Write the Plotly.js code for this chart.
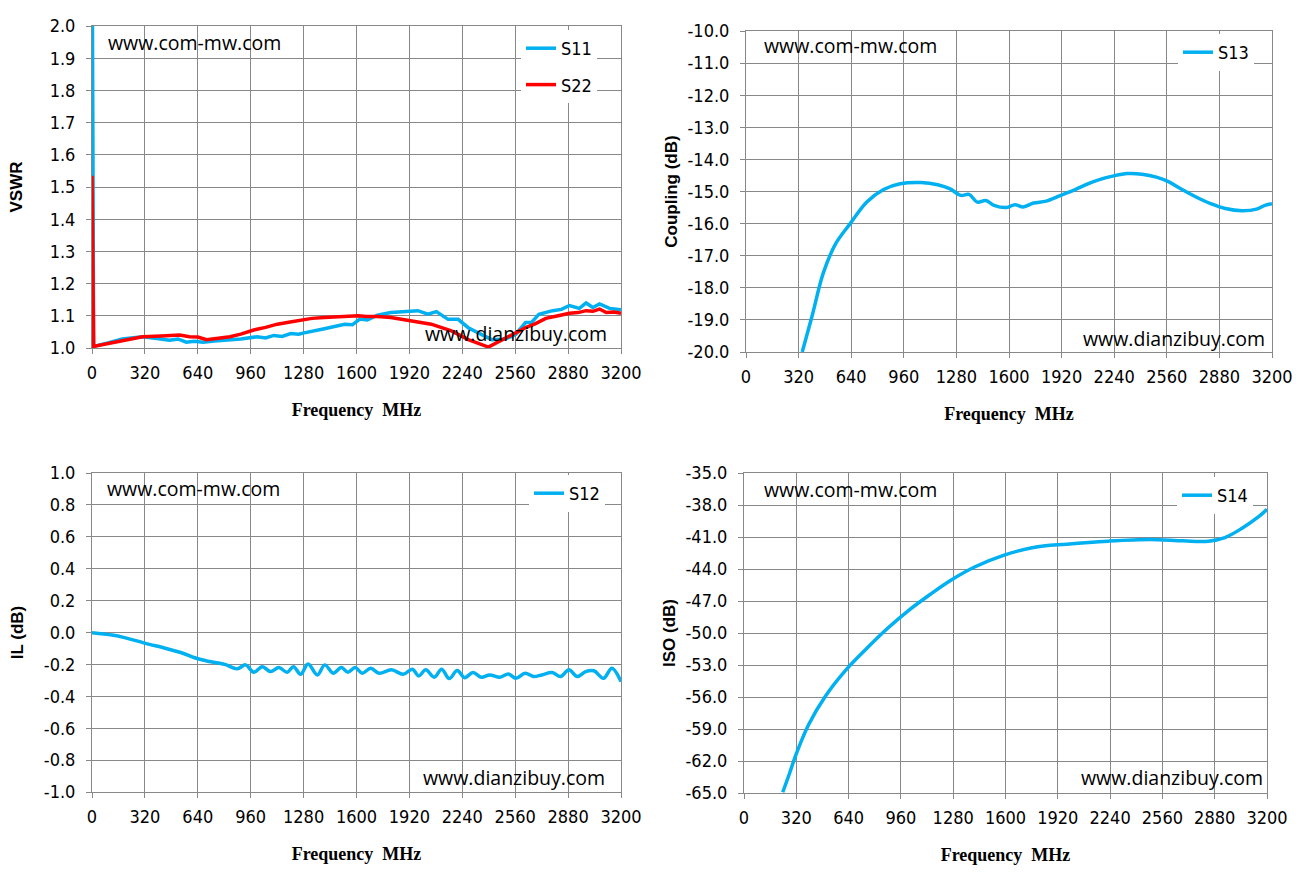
<!DOCTYPE html>
<html>
<head>
<meta charset="utf-8">
<script src="https://cdn.plot.ly/plotly-3.0.1.min.js"></script>
<style>
  html, body { margin: 0; padding: 0; background: #fff; }
  #chart { width: 1315px; height: 881px; }
</style>
</head>
<body>
<div id="chart"></div>
<script>
// VSWR
var s11Freq = [0, 10, 90, 183, 250, 306, 380, 469, 520, 570, 620, 672, 740, 835, 900, 999, 1050, 1100, 1150, 1202, 1250, 1284, 1340, 1406, 1460, 1528, 1575, 1620, 1665, 1727, 1808, 1910, 1971, 2032, 2083, 2154, 2215, 2276, 2357, 2418, 2500, 2562, 2623, 2660, 2704, 2786, 2840, 2888, 2948, 2989, 3030, 3070, 3131, 3200];
var s11Vals = [2.4, 1.005, 1.015, 1.028, 1.032, 1.035, 1.030, 1.024, 1.028, 1.018, 1.021, 1.018, 1.022, 1.026, 1.028, 1.035, 1.031, 1.039, 1.036, 1.045, 1.043, 1.047, 1.052, 1.060, 1.066, 1.074, 1.072, 1.090, 1.087, 1.102, 1.110, 1.114, 1.116, 1.105, 1.113, 1.089, 1.089, 1.063, 1.042, 1.026, 1.028, 1.042, 1.079, 1.080, 1.105, 1.116, 1.120, 1.132, 1.123, 1.140, 1.126, 1.137, 1.123, 1.119];

var s22Freq = [0, 10, 160, 306, 420, 530, 590, 640, 693, 760, 835, 900, 978, 1050, 1121, 1190, 1264, 1330, 1406, 1500, 1610, 1660, 1727, 1808, 1930, 2052, 2174, 2276, 2398, 2520, 2623, 2680, 2745, 2820, 2888, 2940, 2989, 3030, 3070, 3111, 3160, 3200];
var s22Vals = [1.535, 1.005, 1.020, 1.035, 1.037, 1.040, 1.035, 1.034, 1.026, 1.030, 1.035, 1.043, 1.056, 1.064, 1.074, 1.080, 1.087, 1.092, 1.095, 1.098, 1.100, 1.098, 1.098, 1.095, 1.084, 1.074, 1.053, 1.026, 1.003, 1.037, 1.063, 1.075, 1.092, 1.100, 1.108, 1.110, 1.116, 1.114, 1.121, 1.110, 1.112, 1.108];

// Coupling
var s13Freq = [342, 406, 469, 545, 634, 735, 837, 938, 1065, 1166, 1242, 1306, 1357, 1407, 1458, 1509, 1585, 1636, 1687, 1750, 1826, 1915, 2003, 2079, 2155, 2231, 2320, 2409, 2497, 2573, 2650, 2738, 2827, 2916, 3017, 3106, 3157, 3200];
var s13Vals = [-20.0, -18.8, -17.56, -16.63, -16.0, -15.33, -14.94, -14.76, -14.72, -14.79, -14.92, -15.12, -15.09, -15.33, -15.28, -15.43, -15.50, -15.41, -15.48, -15.36, -15.30, -15.12, -14.94, -14.76, -14.62, -14.52, -14.44, -14.46, -14.55, -14.70, -14.93, -15.17, -15.38, -15.53, -15.60, -15.55, -15.43, -15.38];

// Insertion loss
var s12Freq = [0, 121, 197, 323, 449, 550, 626, 701, 803, 878, 929, 979, 1030, 1080, 1130, 1181, 1219, 1262, 1307, 1363, 1408, 1459, 1509, 1547, 1592, 1635, 1686, 1736, 1812, 1883, 1938, 1976, 2019, 2070, 2115, 2161, 2209, 2254, 2305, 2355, 2406, 2468, 2519, 2564, 2620, 2670, 2721, 2784, 2834, 2885, 2935, 2986, 3036, 3094, 3145, 3200];
var s12Vals = [-0.001, -0.016, -0.032, -0.068, -0.100, -0.130, -0.160, -0.180, -0.200, -0.228, -0.203, -0.249, -0.214, -0.245, -0.220, -0.249, -0.214, -0.262, -0.197, -0.266, -0.203, -0.255, -0.220, -0.249, -0.220, -0.255, -0.224, -0.255, -0.234, -0.262, -0.230, -0.272, -0.234, -0.280, -0.230, -0.289, -0.239, -0.283, -0.251, -0.280, -0.266, -0.280, -0.260, -0.287, -0.255, -0.276, -0.266, -0.251, -0.276, -0.234, -0.276, -0.245, -0.240, -0.287, -0.224, -0.308];

// Isolation
var s14Freq = [237, 280, 318, 395, 497, 624, 752, 879, 1006, 1134, 1261, 1414, 1592, 1771, 1975, 2229, 2484, 2688, 2841, 2943, 3045, 3147, 3200];
var s14Vals = [-64.93, -63.1, -61.4, -58.6, -55.95, -53.46, -51.43, -49.56, -47.9, -46.44, -45.1, -43.79, -42.70, -41.98, -41.67, -41.39, -41.24, -41.36, -41.39, -41.05, -40.2, -39.12, -38.4];

var BLUE = '#00B0F0', RED = '#FF0000', GRID = '#888888';
var tickFont = {family: 'DejaVu Sans Condensed, Liberation Sans, sans-serif', size: 18, color: '#000'};
var yTitleFont = {family: 'Liberation Sans, Arial, sans-serif', size: 17, color: '#000', weight: 'bold'};
var xTitleFont = {family: 'Liberation Serif, Times New Roman, serif', size: 18, color: '#000', weight: 'bold'};

// y tick labels written with a plain hyphen, as in the original
function yTicks(lo, hi, step) {
  var vals = [], text = [];
  var n = Math.round((hi - lo) / step);
  for (var i = 0; i <= n; i++) {
    var v = +(lo + i * step).toFixed(4);
    vals.push(v);
    text.push(v.toFixed(1));
  }
  return {vals: vals, text: text};
}

function xAxis(dom, anchor) {
  return {
    domain: dom, anchor: anchor, range: [0, 3200], tick0: 0, dtick: 320,
    showgrid: true, gridcolor: GRID, gridwidth: 1, zeroline: false,
    showline: true, linecolor: GRID, linewidth: 1, mirror: true,
    ticks: 'outside', ticklen: 5, tickcolor: GRID, ticklabelstandoff: 3,
    tickfont: tickFont,
    title: {text: 'Frequency\u00A0\u00A0MHz', font: xTitleFont, standoff: 21}
  };
}
function yAxis(dom, anchor, range, dtick, title, standoff) {
  var t = yTicks(range[0], range[1], dtick);
  return {
    domain: dom, anchor: anchor, range: range,
    tickmode: 'array', tickvals: t.vals, ticktext: t.text,
    showgrid: true, gridcolor: GRID, gridwidth: 1, zeroline: false,
    showline: true, linecolor: GRID, linewidth: 1, mirror: true,
    ticks: 'outside', ticklen: 5, tickcolor: GRID, ticklabelstandoff: 7,
    tickfont: tickFont,
    title: {text: title, font: yTitleFont, standoff: standoff}
  };
}

var line = function (c, shape) { return {color: c, width: 3.5, shape: shape || 'linear'}; };
var data = [
  {x: s11Freq, y: s11Vals, name: 'S11', type: 'scatter', mode: 'lines', line: line(BLUE), xaxis: 'x', yaxis: 'y', legend: 'legend', legendgroup: 'a'},
  {x: s22Freq, y: s22Vals, name: 'S22', type: 'scatter', mode: 'lines', line: line(RED), xaxis: 'x', yaxis: 'y', legend: 'legend', legendgroup: 'b'},
  {x: s13Freq, y: s13Vals, name: 'S13', type: 'scatter', mode: 'lines', line: line(BLUE, 'spline'), xaxis: 'x2', yaxis: 'y2', legend: 'legend2'},
  {x: s12Freq, y: s12Vals, name: 'S12', type: 'scatter', mode: 'lines', line: line(BLUE, 'spline'), xaxis: 'x3', yaxis: 'y3', legend: 'legend3'},
  {x: s14Freq, y: s14Vals, name: 'S14', type: 'scatter', mode: 'lines', line: line(BLUE, 'spline'), xaxis: 'x4', yaxis: 'y4', legend: 'legend4'}
];

var W = 1315, H = 881;
function px(x) { return x / W; }
function py(y) { return 1 - y / H; }

var legFont = {family: 'DejaVu Sans Condensed, Liberation Sans, sans-serif', size: 18, color: '#000'};
function leg(x, y) {
  return {x: px(x), y: py(y), xanchor: 'left', yanchor: 'top', bgcolor: '#fff', borderwidth: 0,
          font: legFont, traceorder: 'grouped', tracegroupgap: 10};
}

var markFont = {family: 'Open Sans, Liberation Sans, sans-serif', size: 19.5, color: '#000'};
function mark(text, x, y) {
  return {text: text, xref: 'paper', yref: 'paper', x: px(x), y: py(y),
          xanchor: 'left', yanchor: 'middle', showarrow: false, font: markFont};
}

var layout = {
  width: W, height: H, margin: {l: 0, r: 0, t: 0, b: 0},
  paper_bgcolor: '#fff', plot_bgcolor: '#fff', showlegend: true,
  xaxis: xAxis([px(92), px(621)], 'y'),
  yaxis: yAxis([py(348), py(26)], 'x', [1.0, 2.0], 0.1, 'VSWR', 22),
  xaxis2: xAxis([px(746), px(1272)], 'y2'),
  yaxis2: yAxis([py(352), py(31)], 'x2', [-20, -10], 1, 'Coupling (dB)', 5),
  xaxis3: xAxis([px(92), px(621)], 'y3'),
  yaxis3: yAxis([py(792), py(473)], 'x3', [-1.0, 1.0], 0.2, 'IL (dB)', 15),
  xaxis4: xAxis([px(744), px(1267)], 'y4'),
  yaxis4: yAxis([py(793), py(473)], 'x4', [-65, -35], 3, 'ISO (dB)', 5),
  legend: leg(521, 30),
  legend2: leg(1178, 34),
  legend3: leg(529, 475),
  legend4: leg(1177, 477),
  annotations: [
    mark('www.com-mw.com', 106, 43), mark('www.dianzibuy.com', 423, 333),
    mark('www.com-mw.com', 762, 45), mark('www.dianzibuy.com', 1081, 338),
    mark('www.com-mw.com', 105, 488), mark('www.dianzibuy.com', 421, 777),
    mark('www.com-mw.com', 762, 489), mark('www.dianzibuy.com', 1079, 777)
  ]
};

Plotly.newPlot('chart', data, layout, {displayModeBar: false, staticPlot: true});
</script>
</body>
</html>
